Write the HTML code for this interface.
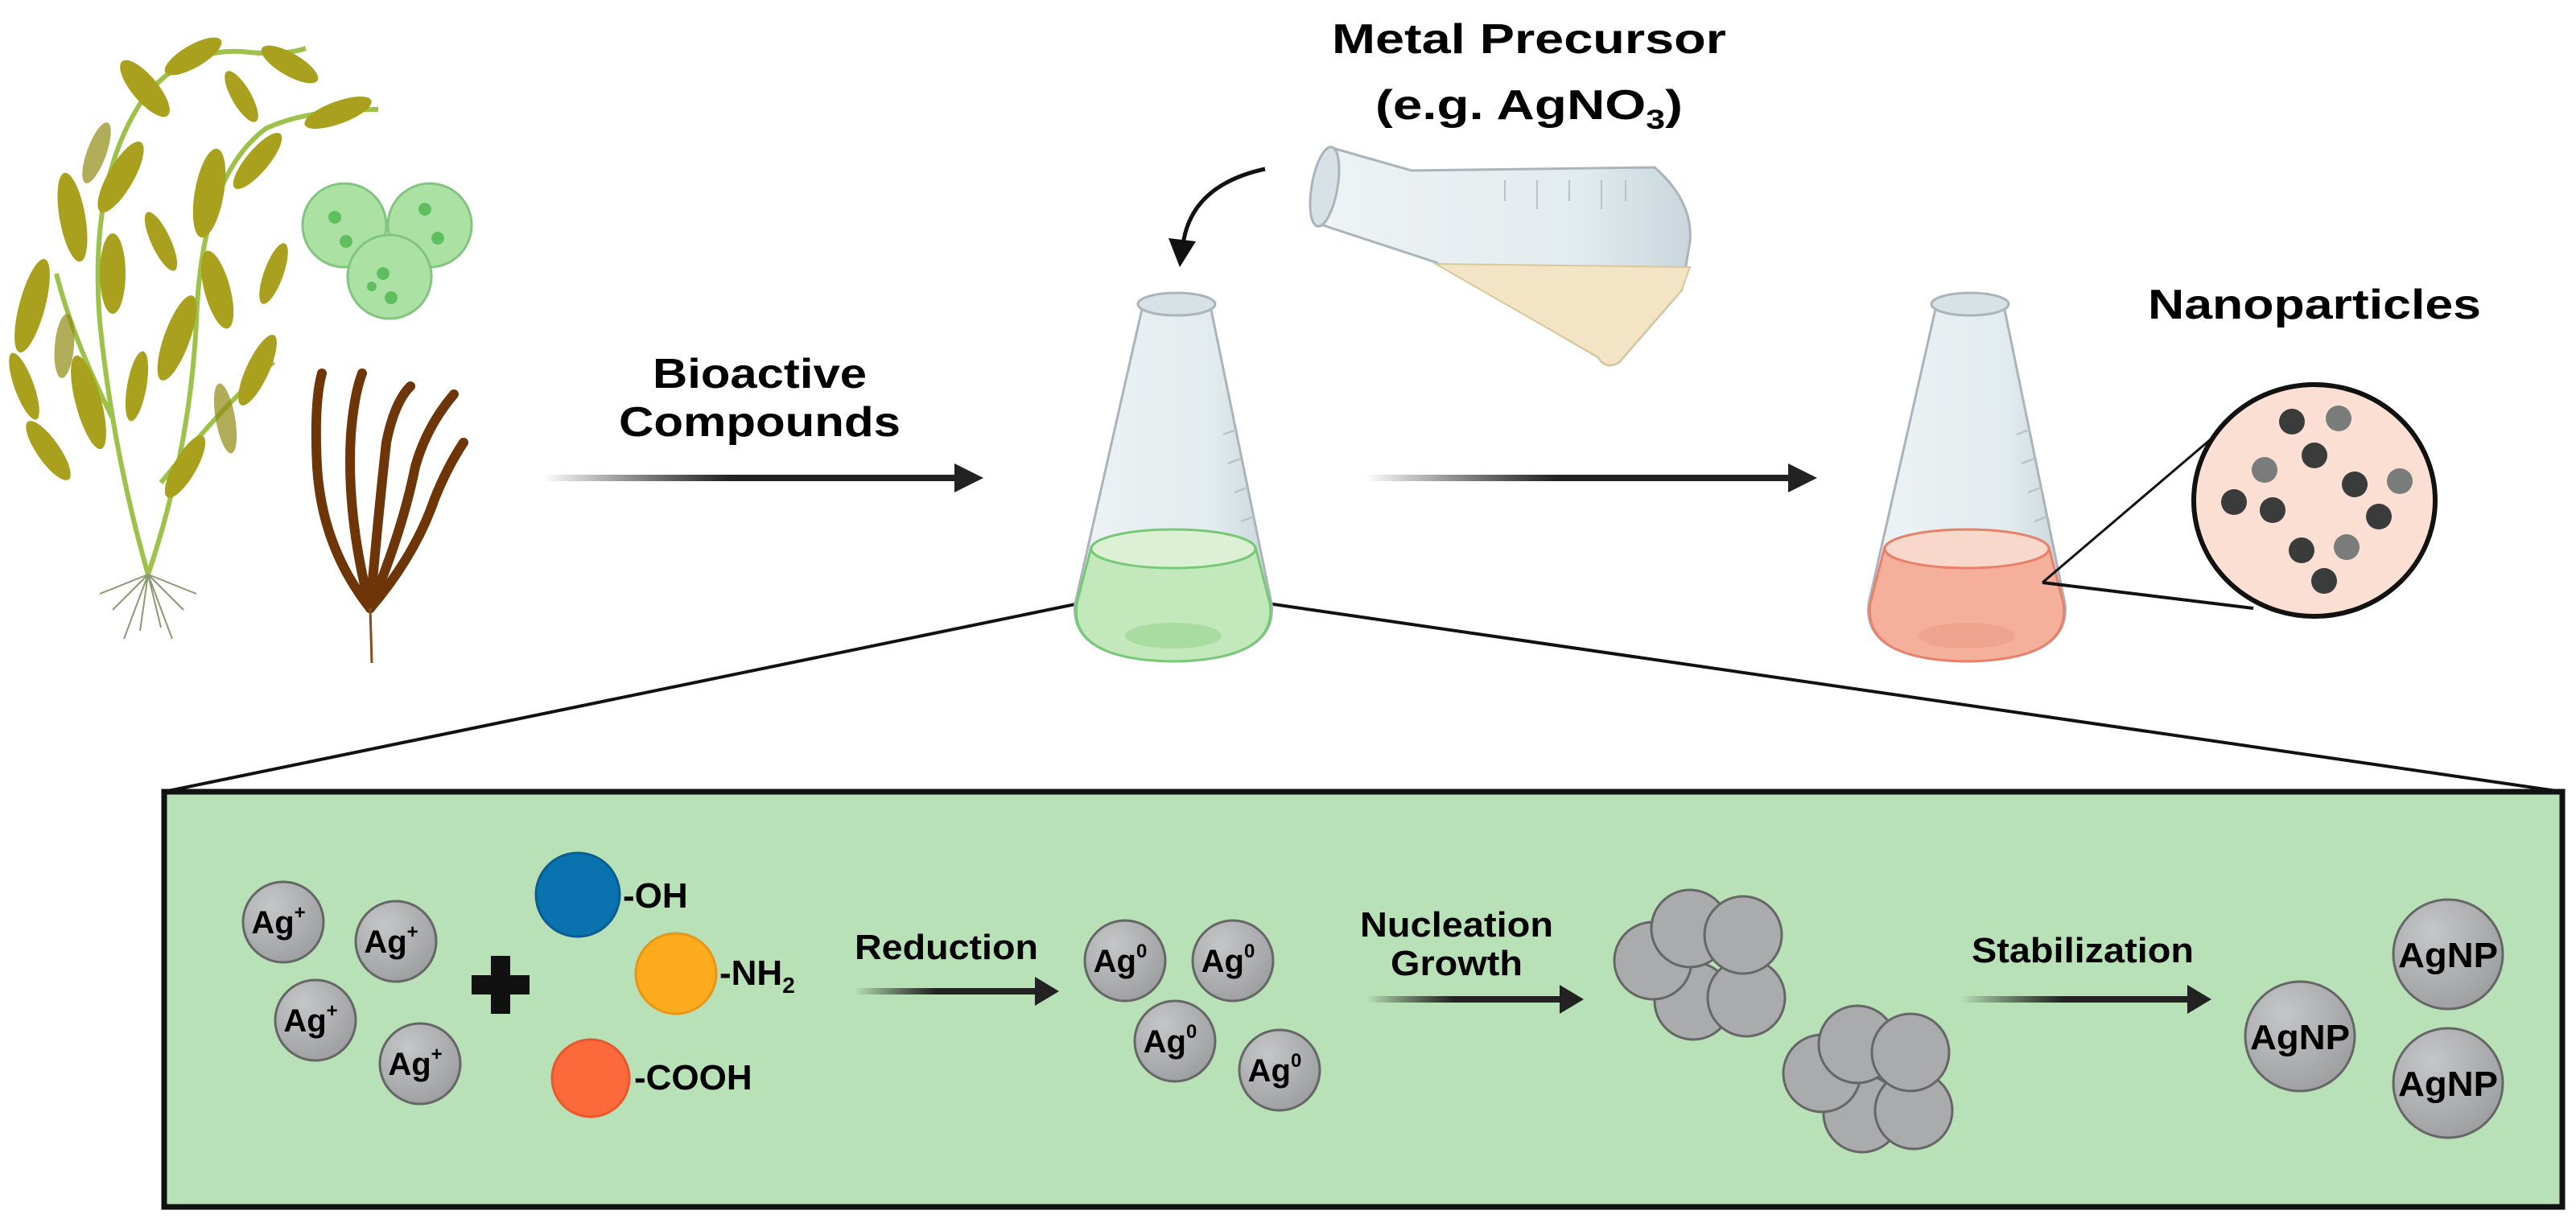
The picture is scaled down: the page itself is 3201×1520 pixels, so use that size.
<!DOCTYPE html>
<html><head><meta charset="utf-8"><style>
html,body{margin:0;padding:0;background:#fff;}
svg{display:block;}
text{font-family:"Liberation Sans",Arial,sans-serif;font-weight:bold;fill:#000;}
</style></head><body>
<svg width="3201" height="1520" viewBox="0 0 1600.5 760" xmlns="http://www.w3.org/2000/svg">
<defs>
<linearGradient id="ag" x1="0" x2="1" y1="0" y2="0"><stop offset="0" stop-color="#000" stop-opacity="0"/><stop offset="0.45" stop-color="#222"/><stop offset="1" stop-color="#222"/></linearGradient>
<radialGradient id="sph" cx="0.35" cy="0.3" r="0.8"><stop offset="0" stop-color="#c4c6c8"/><stop offset="1" stop-color="#9a9c9e"/></radialGradient>
<linearGradient id="glass" x1="0" x2="1"><stop offset="0" stop-color="#eef3f5"/><stop offset="0.7" stop-color="#e2ebee"/><stop offset="1" stop-color="#c9d6db"/></linearGradient>
</defs>

<!-- zoom lines -->
<line x1="719" y1="365" x2="102" y2="492" stroke="#111" stroke-width="2"/>
<line x1="719" y1="365" x2="1592" y2="492" stroke="#111" stroke-width="2"/>

<!-- plants -->
<g fill="none" stroke="#9cc24a" stroke-width="3">
<path d="M92,357 Q70,280 62,200 Q55,110 90,60 Q115,30 150,32 Q175,35 190,30"/>
<path d="M92,357 Q118,280 122,200 Q125,110 165,80 Q190,68 235,68"/>
<path d="M70,260 Q45,210 35,170"/>
<path d="M100,300 Q140,250 170,225"/>
</g>
<g fill="#a9a11d">
<ellipse cx="45" cy="135" rx="8" ry="28" transform="rotate(-10 45 135)"/>
<ellipse cx="20" cy="190" rx="8" ry="30" transform="rotate(15 20 190)"/>
<ellipse cx="75" cy="110" rx="8" ry="25" transform="rotate(30 75 110)"/>
<ellipse cx="90" cy="55" rx="8" ry="22" transform="rotate(-40 90 55)"/>
<ellipse cx="120" cy="35" rx="7" ry="20" transform="rotate(60 120 35)"/>
<ellipse cx="180" cy="40" rx="7" ry="20" transform="rotate(-60 180 40)"/>
<ellipse cx="210" cy="70" rx="7" ry="22" transform="rotate(70 210 70)"/>
<ellipse cx="130" cy="120" rx="9" ry="28" transform="rotate(10 130 120)"/>
<ellipse cx="160" cy="100" rx="7" ry="22" transform="rotate(40 160 100)"/>
<ellipse cx="55" cy="250" rx="8" ry="30" transform="rotate(-15 55 250)"/>
<ellipse cx="110" cy="210" rx="8" ry="28" transform="rotate(20 110 210)"/>
<ellipse cx="160" cy="230" rx="7" ry="24" transform="rotate(25 160 230)"/>
<ellipse cx="30" cy="280" rx="7" ry="22" transform="rotate(-35 30 280)"/>
<ellipse cx="115" cy="290" rx="7" ry="22" transform="rotate(30 115 290)"/>
<ellipse cx="70" cy="170" rx="8" ry="25"/>
<ellipse cx="135" cy="180" rx="8" ry="25" transform="rotate(-15 135 180)"/>
<ellipse cx="170" cy="170" rx="6" ry="20" transform="rotate(20 170 170)"/>
<ellipse cx="15" cy="240" rx="6" ry="22" transform="rotate(-20 15 240)"/>
<ellipse cx="85" cy="240" rx="6" ry="22" transform="rotate(10 85 240)"/>
<ellipse cx="150" cy="60" rx="6" ry="18" transform="rotate(-30 150 60)"/>
<ellipse cx="100" cy="150" rx="6" ry="20" transform="rotate(-25 100 150)"/>
</g>
<g fill="#8f8a12" opacity="0.7">
<ellipse cx="60" cy="95" rx="6" ry="20" transform="rotate(20 60 95)"/>
<ellipse cx="140" cy="260" rx="6" ry="22" transform="rotate(-10 140 260)"/>
<ellipse cx="40" cy="215" rx="6" ry="20" transform="rotate(5 40 215)"/>
</g>
<g stroke="#8a9a70" stroke-width="1" fill="none"><path d="M92,357 l-22,22 M92,357 l22,22 M92,357 l-5,35 M92,357 l8,33 M92,357 l-30,12 M92,357 l30,12 M92,357 l-15,40 M92,357 l15,40"/></g>
<!-- brown kelp -->
<g fill="none" stroke="#6e3508" stroke-width="6" stroke-linecap="round">
<path d="M230,378 Q200,340 197,290 Q195,250 200,232"/>
<path d="M230,378 Q215,320 218,270 Q220,245 225,232"/>
<path d="M230,378 Q235,320 240,275 Q245,250 255,240"/>
<path d="M230,378 Q250,330 258,290 Q265,265 282,245"/>
<path d="M230,378 Q258,345 270,310 Q278,290 288,275"/>
</g>
<line x1="230" y1="378" x2="231" y2="412" stroke="#8a4a1a" stroke-width="1.5"/>
<!-- green cells -->
<g fill="#a8e0a0" stroke="#7cc27a" stroke-width="1.5" opacity="0.95">
<circle cx="214" cy="140" r="26"/><circle cx="267" cy="140" r="26"/><circle cx="242" cy="172" r="26"/>
</g>
<g fill="#5fbf5f"><circle cx="208" cy="135" r="4"/><circle cx="215" cy="150" r="4"/><circle cx="264" cy="130" r="4"/><circle cx="272" cy="148" r="4"/><circle cx="238" cy="170" r="4"/><circle cx="243" cy="185" r="4"/><circle cx="231" cy="178" r="3"/></g>

<!-- Bioactive compounds -->
<text x="472" y="241" font-size="26" text-anchor="middle" textLength="133" lengthAdjust="spacingAndGlyphs">Bioactive</text>
<text x="472" y="271" font-size="26" text-anchor="middle" textLength="175" lengthAdjust="spacingAndGlyphs">Compounds</text>
<rect x="337" y="295" width="258" height="4" fill="url(#ag)"/>
<polygon points="593,288 611,297 593,306" fill="#222"/>

<!-- Metal Precursor -->
<text x="950" y="33" font-size="26" text-anchor="middle" textLength="245" lengthAdjust="spacingAndGlyphs">Metal Precursor</text>
<text x="950" y="74" font-size="26" text-anchor="middle" textLength="191" lengthAdjust="spacingAndGlyphs">(e.g. AgNO<tspan font-size="17" dy="6">3</tspan><tspan dy="-6">)</tspan></text>

<!-- tilted flask -->
<path d="M828,92 L877,106 L1028,104 Q1052,125 1050,150 L1045,180 L1006,225 Q998,230 993,222 L892,163 L822,140 Z" fill="url(#glass)" stroke="#a9b5ba" stroke-width="1.5"/>
<path d="M892,164 L1050,166 L1045,180 L1006,225 Q998,230 993,222 Z" fill="#f2e4c4" stroke="#d8c89a" stroke-width="1"/>
<ellipse cx="823" cy="116" rx="8" ry="25" fill="#d8e2e6" stroke="#a9b5ba" stroke-width="1.5" transform="rotate(10 823 116)"/>
<g stroke="#b8c3c7" stroke-width="1"><line x1="935" y1="112" x2="935" y2="125"/><line x1="955" y1="112" x2="955" y2="130"/><line x1="975" y1="112" x2="975" y2="125"/><line x1="995" y1="112" x2="995" y2="130"/><line x1="1010" y1="112" x2="1010" y2="125"/></g>
<path d="M786,105 Q740,115 735,152" fill="none" stroke="#111" stroke-width="2.5"/>
<polygon points="726,148 743,150 733,166" fill="#111"/>

<!-- flask 1 -->
<path d="M710,190 L668,375 Q664,410 729,411 Q794,410 790,375 L752,190 Z" fill="url(#glass)" stroke="#a9b5ba" stroke-width="1.5"/>
<path d="M678,340 L669,375 Q664,410 729,411 Q794,410 789,375 L780,340 Z" fill="#c2e8bb" stroke="#77c977" stroke-width="1.5"/>
<ellipse cx="729" cy="341" rx="51" ry="12" fill="#dcf0d4" stroke="#77c977" stroke-width="1.5"/>
<ellipse cx="729" cy="395" rx="30" ry="8" fill="#a8dca0"/>
<ellipse cx="731" cy="189" rx="24" ry="7" fill="#d8e2e6" stroke="#a9b5ba" stroke-width="1.5"/>
<g stroke="#b8c3c7" stroke-width="1.2"><line x1="760" y1="270" x2="768" y2="267"/><line x1="763" y1="288" x2="771" y2="285"/><line x1="767" y1="306" x2="775" y2="303"/><line x1="771" y1="324" x2="779" y2="321"/></g>

<!-- arrow 2 -->
<rect x="848" y="295" width="265" height="4" fill="url(#ag)"/>
<polygon points="1111,288 1129,297 1111,306" fill="#222"/>

<!-- flask 2 -->
<path d="M1203,190 L1161,375 Q1157,410 1222,411 Q1287,410 1283,375 L1245,190 Z" fill="url(#glass)" stroke="#a9b5ba" stroke-width="1.5"/>
<path d="M1171,340 L1162,375 Q1157,410 1222,411 Q1287,410 1282,375 L1273,340 Z" fill="#f4b09a" stroke="#e8806a" stroke-width="1.5"/>
<ellipse cx="1222" cy="341" rx="51" ry="12" fill="#f9d8cc" stroke="#e8806a" stroke-width="1.5"/>
<ellipse cx="1222" cy="395" rx="30" ry="8" fill="#eea48e"/>
<ellipse cx="1224" cy="189" rx="24" ry="7" fill="#d8e2e6" stroke="#a9b5ba" stroke-width="1.5"/>
<g stroke="#b8c3c7" stroke-width="1.2"><line x1="1253" y1="270" x2="1261" y2="267"/><line x1="1256" y1="288" x2="1264" y2="285"/><line x1="1260" y1="306" x2="1268" y2="303"/><line x1="1264" y1="324" x2="1272" y2="321"/></g>

<text x="1438" y="198" font-size="26" text-anchor="middle" textLength="207" lengthAdjust="spacingAndGlyphs">Nanoparticles</text>
<line x1="1269" y1="362" x2="1377" y2="270" stroke="#111" stroke-width="1.5"/>
<line x1="1269" y1="362" x2="1400" y2="378" stroke="#111" stroke-width="2"/>
<ellipse cx="1438" cy="311" rx="75" ry="72" fill="#fbdfd2" stroke="#111" stroke-width="3"/>
<g fill="#3a3c3c"><circle cx="1424" cy="262" r="8"/><circle cx="1438" cy="283" r="8"/><circle cx="1463" cy="301" r="8"/><circle cx="1388" cy="312" r="8"/><circle cx="1412" cy="317" r="8"/><circle cx="1478" cy="321" r="8"/><circle cx="1430" cy="342" r="8"/><circle cx="1444" cy="361" r="8"/></g>
<g fill="#7a7c7c"><circle cx="1453" cy="260" r="8"/><circle cx="1407" cy="292" r="8"/><circle cx="1491" cy="299" r="8"/><circle cx="1458" cy="340" r="8"/></g>

<!-- bottom panel -->
<rect x="102" y="492" width="1490" height="258" fill="#b9e1b7" stroke="#111" stroke-width="3.5"/>

<g stroke="#666" stroke-width="1.5" fill="url(#sph)">
<circle cx="176" cy="573" r="25"/><circle cx="246" cy="585" r="25"/><circle cx="196" cy="634" r="25"/><circle cx="261" cy="661" r="25"/>
<circle cx="699" cy="597" r="25"/><circle cx="766" cy="597" r="25"/><circle cx="730" cy="647" r="25"/><circle cx="795" cy="665" r="25"/>
</g>
<g font-size="20" text-anchor="middle">
<text x="173" y="580">Ag<tspan font-size="12" dy="-9">+</tspan></text>
<text x="243" y="592">Ag<tspan font-size="12" dy="-9">+</tspan></text>
<text x="193" y="641">Ag<tspan font-size="12" dy="-9">+</tspan></text>
<text x="258" y="668">Ag<tspan font-size="12" dy="-9">+</tspan></text>
<text x="696" y="604">Ag<tspan font-size="12" dy="-9">0</tspan></text>
<text x="763" y="604">Ag<tspan font-size="12" dy="-9">0</tspan></text>
<text x="727" y="654">Ag<tspan font-size="12" dy="-9">0</tspan></text>
<text x="792" y="672">Ag<tspan font-size="12" dy="-9">0</tspan></text>
</g>
<path d="M305,594 h12 v12 h12 v12 h-12 v12 h-12 v-12 h-12 v-12 h12 z" fill="#111"/>
<circle cx="359" cy="556" r="26" fill="#0b72b0" stroke="#0a5d90" stroke-width="1.5"/>
<circle cx="420" cy="605" r="25" fill="#fbab1c" stroke="#e8961a" stroke-width="1.5"/>
<circle cx="367" cy="670" r="24" fill="#fc6a3c" stroke="#e8582c" stroke-width="1.5"/>
<g font-size="22"><text x="387" y="564">-OH</text><text x="447" y="612">-NH<tspan font-size="14" dy="5">2</tspan></text><text x="394" y="677">-COOH</text></g>

<text x="588" y="596" font-size="22" text-anchor="middle" textLength="114" lengthAdjust="spacingAndGlyphs">Reduction</text>
<rect x="531" y="614" width="113" height="4" fill="url(#ag)"/>
<polygon points="643,607 658,616 643,625" fill="#222"/>

<text x="905" y="582" font-size="22" text-anchor="middle" textLength="120" lengthAdjust="spacingAndGlyphs">Nucleation</text>
<text x="905" y="606" font-size="22" text-anchor="middle" textLength="82" lengthAdjust="spacingAndGlyphs">Growth</text>
<rect x="849" y="619" width="121" height="4" fill="url(#ag)"/>
<polygon points="969,612 984,621 969,630" fill="#222"/>

<g stroke="#666" stroke-width="1.5" fill="#a9abad">
<circle cx="1052" cy="622" r="24"/><circle cx="1085" cy="620" r="24"/><circle cx="1027" cy="597" r="24"/><circle cx="1050" cy="577" r="24"/><circle cx="1083" cy="581" r="24"/>
<circle cx="1157" cy="692" r="24"/><circle cx="1189" cy="690" r="24"/><circle cx="1132" cy="667" r="24"/><circle cx="1154" cy="649" r="24"/><circle cx="1187" cy="654" r="24"/>
</g>

<text x="1294" y="598" font-size="22" text-anchor="middle" textLength="138" lengthAdjust="spacingAndGlyphs">Stabilization</text>
<rect x="1218" y="619" width="142" height="4" fill="url(#ag)"/>
<polygon points="1359,612 1374,621 1359,630" fill="#222"/>

<g stroke="#666" stroke-width="1.5" fill="url(#sph)">
<circle cx="1429" cy="644" r="34"/><circle cx="1521" cy="593" r="34"/><circle cx="1521" cy="673" r="34"/>
</g>
<g font-size="22" text-anchor="middle"><text x="1429" y="652" textLength="62" lengthAdjust="spacingAndGlyphs">AgNP</text><text x="1521" y="601" textLength="62" lengthAdjust="spacingAndGlyphs">AgNP</text><text x="1521" y="681" textLength="62" lengthAdjust="spacingAndGlyphs">AgNP</text></g>
</svg>
</body></html>
